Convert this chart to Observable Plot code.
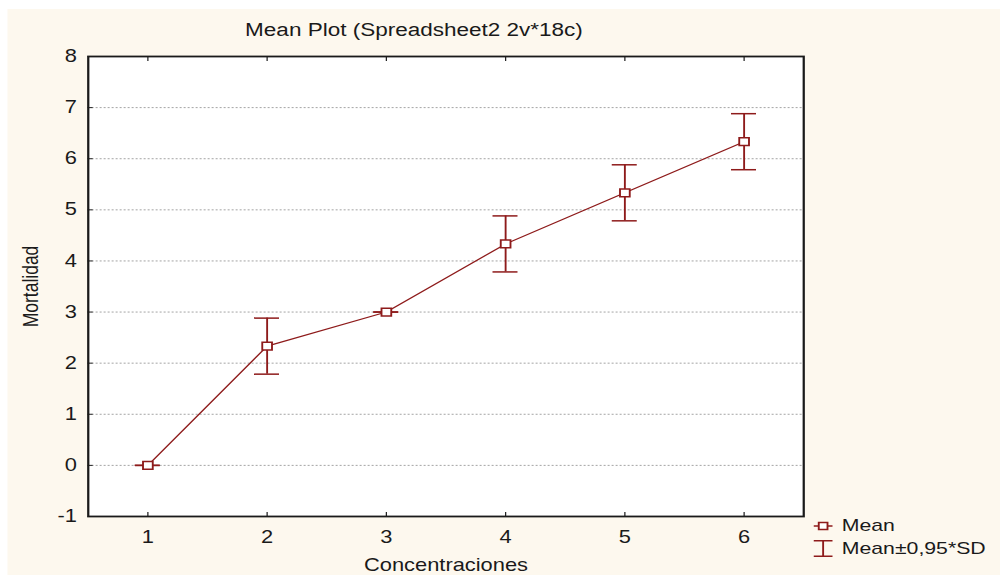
<!DOCTYPE html>
<html>
<head>
<meta charset="utf-8">
<script src="https://cdn.jsdelivr.net/npm/d3@7"></script>
<script src="https://cdn.jsdelivr.net/npm/@observablehq/plot@0.6"></script>
<style>
  html, body { margin: 0; padding: 0; background: #ffffff; }
  /* the whole figure is laid out 800 wide and widened to 1000 */
  #stage { position: absolute; left: 0; top: 0; width: 800px; height: 575px;
           transform: scaleX(1.25); transform-origin: 0 0; overflow: hidden; }
  #panel { position: absolute; left: 6.4px; top: 9px; right: 0; bottom: 0;
           background: #fdf8ee; font-family: "Liberation Sans", Arial, sans-serif; color: #1a1a1a; }
  #title { position: absolute; left: 0; top: 10px; width: 649.6px; text-align: center;
           font-size: 18px; line-height: 22px; }
  #chart { position: absolute; left: 0; top: 38px; }
  #chart svg { overflow: visible; }
  #legend { position: absolute; left: 645px; top: 505px; font-size: 17px; line-height: 22px; }
  #legend .row { display: flex; align-items: center; height: 23px; }
  #legend svg { margin-right: 7px; overflow: visible; }
</style>
</head>
<body>
<div id="stage">
  <div id="panel">
    <div id="title">Mean Plot (Spreadsheet2 2v*18c)</div>
    <div id="chart"></div>
    <div id="legend"></div>
  </div>
</div>
<script>
// Concentration groups and the mortality summary for each
const concentraciones = [1, 2, 3, 4, 5, 6];
const medias = [0, 2.333, 3, 4.333, 5.333, 6.333];
const desviaciones = [0, 0.577, 0, 0.577, 0.577, 0.577];
const factorSD = 0.95;

const yTicks = [-1, 0, 1, 2, 3, 4, 5, 6, 7, 8];
const gridTicks = [0, 1, 2, 3, 4, 5, 6, 7];
const xTicks = [1, 2, 3, 4, 5, 6];

const serie = "#8e1b1b";
const labelSerie = "Mean";
const labelBarras = "Mean\u00b10,95*SD";

const datos = concentraciones.map((c, i) => ({
  c,
  media: medias[i],
  lo: medias[i] - factorSD * desviaciones[i],
  hi: medias[i] + factorSD * desviaciones[i]
}));

const plot = Plot.plot({
  width: 793.6,
  height: 528,
  marginLeft: 64.1,
  marginRight: 157.1,
  marginTop: 9,
  marginBottom: 59,
  style: { background: "transparent", fontFamily: "'Liberation Sans', Arial, sans-serif", color: "#1a1a1a" },
  x: { domain: [0.5, 6.5] },
  y: { domain: [-1, 8] },
  marks: [
    // white plotting area
    Plot.frame({ fill: "white", stroke: "none" }),
    Plot.gridY(gridTicks, { stroke: "#9a9a9a", strokeOpacity: 1, strokeWidth: 0.8, strokeDasharray: "1.6,1.6" }),
    // tick labels and axis titles
    Plot.axisY(yTicks, { anchor: "left", tickSize: 0, tickPadding: 9, fontSize: 17.5,
      tickFormat: (d) => String(d),
      label: "Mortalidad", labelAnchor: "center", labelArrow: "none", labelOffset: 53 }),
    Plot.axisX(xTicks, { anchor: "bottom", tickSize: 0, tickPadding: 14, fontSize: 17.5,
      tickFormat: (d) => String(d),
      label: "Concentraciones", labelAnchor: "center", labelArrow: "none", labelOffset: 55 }),
    // inward tick marks
    Plot.axisY(yTicks, { anchor: "left", tickSize: -4, tickFormat: () => "", label: null, stroke: "#222" }),
    Plot.axisX(xTicks, { anchor: "bottom", tickSize: -4, tickFormat: () => "", label: null, stroke: "#222" }),
    Plot.axisX(xTicks, { anchor: "top", tickSize: -4, tickFormat: () => "", label: null, stroke: "#222" }),
    // mean line, error bars with caps, mean markers
    Plot.line(datos, { x: "c", y: "media", stroke: serie, strokeWidth: 1.2 }),
    Plot.ruleX(datos, { x: "c", y1: "lo", y2: "hi", stroke: serie, strokeWidth: 1.5 }),
    Plot.ruleY(datos, { x1: "c", x2: "c", y: "hi", insetLeft: -10, insetRight: -10, stroke: serie, strokeWidth: 1.5 }),
    Plot.ruleY(datos, { x1: "c", x2: "c", y: "lo", insetLeft: -10, insetRight: -10, stroke: serie, strokeWidth: 1.5 }),
    Plot.dot(datos, { x: "c", y: "media", symbol: "square", r: 4.4, fill: "white", stroke: serie, strokeWidth: 1.5 }),
    Plot.frame({ stroke: "#1a1a1a", strokeWidth: 1.8 })
  ]
});
document.getElementById("chart").appendChild(plot);

// legend: mean marker and error-bar swatch
const legend = document.getElementById("legend");
legend.innerHTML = `
  <div class="row">
    <svg width="15" height="12"><line x1="0" y1="6" x2="15" y2="6" stroke="${serie}" stroke-width="1.5"/>
      <rect x="4" y="2.5" width="7" height="7" fill="white" stroke="${serie}" stroke-width="1.5"/></svg>
    <span>${labelSerie}</span>
  </div>
  <div class="row">
    <svg width="15" height="17"><line x1="7.5" y1="0.75" x2="7.5" y2="16.25" stroke="${serie}" stroke-width="1.5"/>
      <line x1="0" y1="0.75" x2="15" y2="0.75" stroke="${serie}" stroke-width="1.5"/>
      <line x1="0" y1="16.25" x2="15" y2="16.25" stroke="${serie}" stroke-width="1.5"/></svg>
    <span>${labelBarras}</span>
  </div>`;
</script>
</body>
</html>
